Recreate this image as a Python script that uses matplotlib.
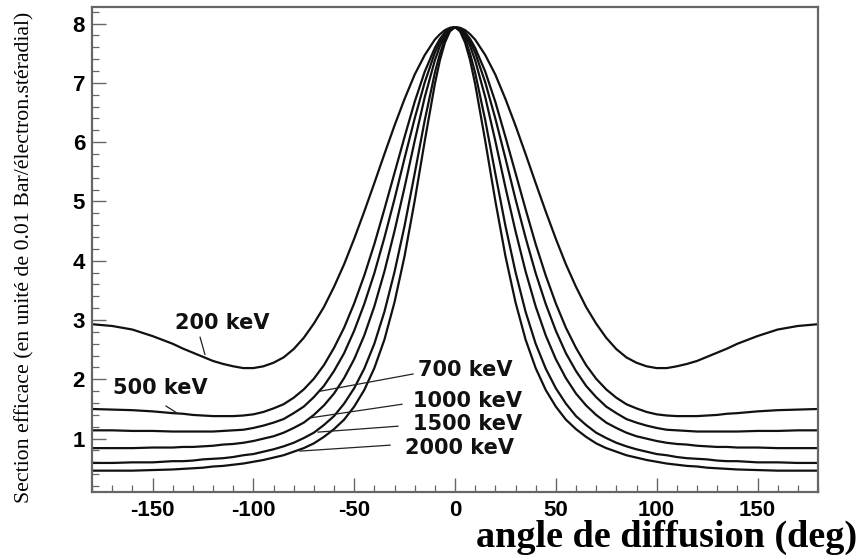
import numpy as np
import matplotlib
matplotlib.use("Agg")
import matplotlib.pyplot as plt
from matplotlib.ticker import MultipleLocator

plt.rcParams["axes.unicode_minus"] = False

# Scattering angles (deg), half range (curves are symmetric)
angles = [0, 2.5, 5, 7.5, 10,
          15, 20, 25, 30, 35, 40, 45, 50, 55, 60,
          65, 70, 75, 80, 85, 90, 95, 100, 105, 110, 115, 120, 125, 130, 135,
          140, 150, 160, 170, 180]

# Cross-section values (units of 0.01 barn / electron / sr)
s200 = [7.94, 7.93, 7.89, 7.82, 7.73,
        7.47, 7.14, 6.73, 6.28, 5.80, 5.31, 4.83, 4.37, 3.94, 3.56,
        3.22, 2.94, 2.70, 2.51, 2.37, 2.28, 2.22, 2.19, 2.19, 2.22, 2.26, 2.31, 2.38, 2.45, 2.52,
        2.60, 2.73, 2.84, 2.90, 2.93]
s500 = [7.94, 7.92, 7.85, 7.74, 7.59,
        7.19, 6.68, 6.09, 5.48, 4.87, 4.28, 3.75, 3.28, 2.87, 2.53,
        2.24, 2.01, 1.83, 1.69, 1.58, 1.51, 1.45, 1.41, 1.39, 1.38, 1.38, 1.38, 1.39, 1.40, 1.42,
        1.43, 1.46, 1.48, 1.49, 1.50]
s700 = [7.94, 7.91, 7.83, 7.69, 7.51,
        7.01, 6.40, 5.73, 5.04, 4.39, 3.79, 3.27, 2.82, 2.44, 2.14,
        1.89, 1.70, 1.54, 1.43, 1.33, 1.27, 1.22, 1.18, 1.15, 1.14, 1.13, 1.12, 1.12, 1.12, 1.12,
        1.12, 1.13, 1.13, 1.14, 1.14]
s1000 = [7.94, 7.90, 7.79, 7.62, 7.38,
         6.76, 6.02, 5.24, 4.50, 3.82, 3.23, 2.74, 2.34, 2.02, 1.76,
         1.56, 1.40, 1.27, 1.18, 1.10, 1.04, 1.00, 0.96, 0.93, 0.91, 0.90, 0.88, 0.87, 0.86, 0.86,
         0.85, 0.85, 0.84, 0.84, 0.84]
s1500 = [7.94, 7.89, 7.74, 7.49, 7.17,
         6.37, 5.47, 4.59, 3.81, 3.14, 2.60, 2.18, 1.85, 1.59, 1.38,
         1.23, 1.10, 1.01, 0.93, 0.87, 0.82, 0.78, 0.74, 0.72, 0.69, 0.67, 0.66, 0.65, 0.63, 0.62,
         0.62, 0.60, 0.60, 0.59, 0.59]
s2000 = [7.94, 7.87, 7.68, 7.38, 6.98,
         6.02, 5.01, 4.08, 3.30, 2.67, 2.19, 1.82, 1.54, 1.32, 1.16,
         1.03, 0.92, 0.84, 0.78, 0.72, 0.68, 0.64, 0.61, 0.58, 0.56, 0.54, 0.53, 0.51, 0.50, 0.49,
         0.48, 0.47, 0.46, 0.46, 0.46]

series = [s200, s500, s700, s1000, s1500, s2000]
labels = ["200 keV", "500 keV", "700 keV", "1000 keV", "1500 keV", "2000 keV"]
x_ticks = [-150, -100, -50, 0, 50, 100, 150]
y_ticks = [1, 2, 3, 4, 5, 6, 7, 8]

fig = plt.figure(figsize=(8.64, 5.56), dpi=100)
ax = fig.add_axes([92 / 864, 1 - 492 / 556, 726 / 864, 485 / 556])

a = np.array(angles)
full_x = np.concatenate([-a[::-1], a[1:]])
for s in series:
    v = np.array(s)
    full_y = np.concatenate([v[::-1], v[1:]])
    ax.plot(full_x, full_y, color="#111111", lw=1.6, solid_joinstyle="round")

ax.set_xlim(-180, 180)
ax.set_ylim(0.1, 8.28)
ax.set_xticks(x_ticks)
ax.set_yticks(y_ticks)
ax.xaxis.set_minor_locator(MultipleLocator(10))
ax.yaxis.set_minor_locator(MultipleLocator(0.2))

frame_col = "#666666"
for sp in ax.spines.values():
    sp.set_color(frame_col)
    sp.set_linewidth(1.6)
ax.tick_params(axis="both", which="major", direction="in", length=10, width=1.0,
               color=frame_col, top=False, right=False)
ax.tick_params(axis="both", which="minor", direction="in", length=5, width=0.9,
               color=frame_col, top=False, right=False)
ax.tick_params(axis="x", which="major", pad=6)
ax.tick_params(axis="y", which="major", pad=5)
for lab in ax.get_xticklabels() + ax.get_yticklabels():
    lab.set_fontfamily("Liberation Sans")
    lab.set_fontweight("bold")
    lab.set_fontsize(16)

# curve labels with leader lines
lab_font = dict(family="DejaVu Sans", fontweight="bold", fontsize=15, color="#111111")
text_pos = [(-115.5, 2.95), (-146.3, 1.85), (5.0, 2.16), (6.4, 1.63), (6.4, 1.24), (2.0, 0.84)]
leaders = [((-126.4, 2.71), (-124.0, 2.42)),
           ((-143.3, 1.55), (-137.8, 1.43)),
           ((-20.8, 2.09), (-66.9, 1.80)),
           ((-26.3, 1.58), (-71.9, 1.35)),
           ((-28.3, 1.21), (-67.9, 1.11)),
           ((-32.2, 0.89), (-76.9, 0.79))]
for lab, (tx, ty), (p0, p1) in zip(labels, text_pos, leaders):
    ax.text(tx, ty, lab, ha="center", va="center", **lab_font)
    ax.plot([p0[0], p1[0]], [p0[1], p1[1]], color="#222222", lw=0.9)

fig.text(25 / 864, 1 - 257 / 556,
         "Section efficace (en unité de 0.01 Bar/électron.stéradial)",
         rotation=90, ha="center", va="center", family="Liberation Serif", fontsize=15.7)
fig.text(667 / 864, 1 - 537 / 556, "angle de diffusion (deg)", ha="center", va="center",
         family="Liberation Serif", fontweight="bold", fontsize=27.5)

fig.savefig("out.png", dpi=100, facecolor="white")
